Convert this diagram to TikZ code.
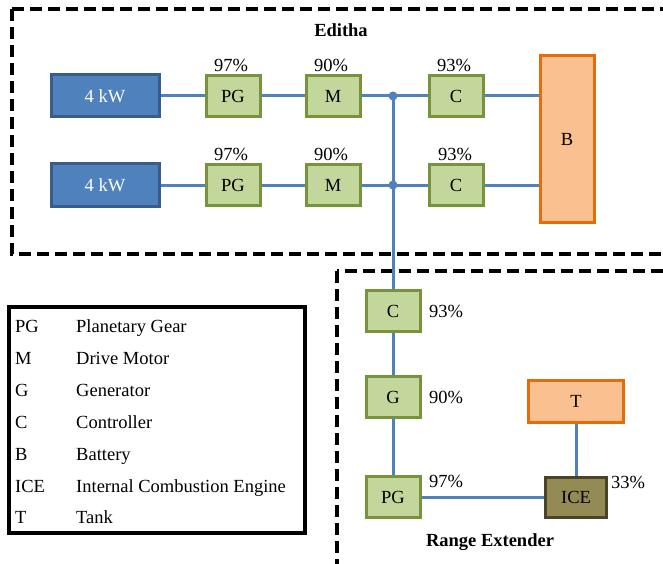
\documentclass[tikz,border=0pt]{standalone}
\usepackage{fontspec}
\setmainfont{Liberation Serif}
\begin{document}
\begin{tikzpicture}[x=1pt,y=-1pt,
  every node/.style={font=\fontsize{18.5}{20}\selectfont},
  conn/.style={draw=lineblue,line width=3pt},
  kwbox/.style={draw=kwborder,fill=kwfill,line width=3pt,minimum width=108pt,minimum height=42pt,text=white,inner sep=0pt},
  gbox/.style={draw=gborder,fill=gfill,line width=3pt,minimum width=54pt,minimum height=41pt,inner sep=0pt},
  obox/.style={draw=oborder,fill=ofill,line width=3pt,inner sep=0pt},
  icebox/.style={draw=iceborder,fill=icefill,line width=3pt,minimum width=61pt,minimum height=40pt,inner sep=0pt},
  dashbox/.style={draw=black,line width=3.5pt,dash pattern=on 12pt off 6pt},
  jdot/.style={circle,fill=lineblue,inner sep=0pt,minimum size=9pt},
  pct/.style={inner sep=0pt},
  leg/.style={anchor=base west,inner sep=0pt}
]
\definecolor{lineblue}{HTML}{4F81BD}
\definecolor{kwfill}{HTML}{4F81BD}
\definecolor{kwborder}{HTML}{385D8A}
\definecolor{gfill}{HTML}{C3D69B}
\definecolor{gborder}{HTML}{77933C}
\definecolor{ofill}{HTML}{FAC090}
\definecolor{oborder}{HTML}{E46C0A}
\definecolor{icefill}{HTML}{948A54}
\definecolor{iceborder}{HTML}{4A4528}
\useasboundingbox (0,0) rectangle (663,564);
\begin{scope}
\clip (0,0) rectangle (663,564);
\draw[dashbox] (12,9) rectangle (700,254);
\draw[dashbox] (337,271) rectangle (700,620);
\end{scope}

% Editha
\node[font=\fontsize{18.5}{20}\selectfont\bfseries] (edtitle) at (341,30) {Editha};
\node[kwbox] (kw1) at (105,96) {4 kW};
\node[kwbox] (kw2) at (105,185) {4 kW};
\node[gbox] (pg1) at (233,96) {PG};
\node[gbox] (pg2) at (233,185) {PG};
\node[gbox] (m1) at (333,96) {M};
\node[gbox] (m2) at (333,185) {M};
\node[gbox] (c1) at (456,96) {C};
\node[gbox] (c2) at (456,185) {C};
\node[obox,minimum width=54pt,minimum height=166pt] (bat) at (567,139) {B};
\node[pct] (p1) at (231,65) {97\%};
\node[pct] (p2) at (231,154) {97\%};
\node[pct] (p3) at (331,65) {90\%};
\node[pct] (p4) at (331,154) {90\%};
\node[pct] (p5) at (454,65) {93\%};
\node[pct] (p6) at (455,154) {93\%};
\coordinate (j1) at (393,96);
\coordinate (j2) at (393,185);

% Range extender
\node[gbox] (rc) at (393,311) {C};
\node[gbox] (rg) at (393,397) {G};
\node[gbox] (rpg) at (393,497) {PG};
\node[icebox] (ice) at (576,497) {ICE};
\node[obox,minimum width=95pt,minimum height=42pt] (tank) at (576,401) {T};
\node[pct] (p7) at (446,311) {93\%};
\node[pct] (p8) at (446,397) {90\%};
\node[pct] (p9) at (446,481) {97\%};
\node[pct] (p10) at (628,482) {33\%};
\node[font=\fontsize{18.5}{20}\selectfont\bfseries] (retitle) at (490,542) {Range Extender};

% connectors
\draw[conn] (kw1) -- (pg1) -- (m1) -- (j1) -- (c1) -- (c1 -| bat.west);
\draw[conn] (kw2) -- (pg2) -- (m2) -- (j2) -- (c2) -- (c2 -| bat.west);
\draw[conn] (j1) -- (rc.north);
\draw[conn] (rc) -- (rg);
\draw[conn] (rg) -- (rpg);
\draw[conn] (rpg) -- (ice);
\draw[conn] (tank) -- (ice);
\node[jdot] (d1) at (j1) {};
\node[jdot] (d2) at (j2) {};

% legend
\draw[line width=3.5pt] (9,307) rectangle (305,533);
\foreach \y/\a/\b in {332/PG/Planetary Gear,364/M/Drive Motor,396/G/Generator,428/C/Controller,460/B/Battery,492/ICE/Internal Combustion Engine,523/T/Tank}{
  \node[leg] at (15,\y) {\a};
  \node[leg] at (76,\y) {\b};
}
\end{tikzpicture}
\end{document}
